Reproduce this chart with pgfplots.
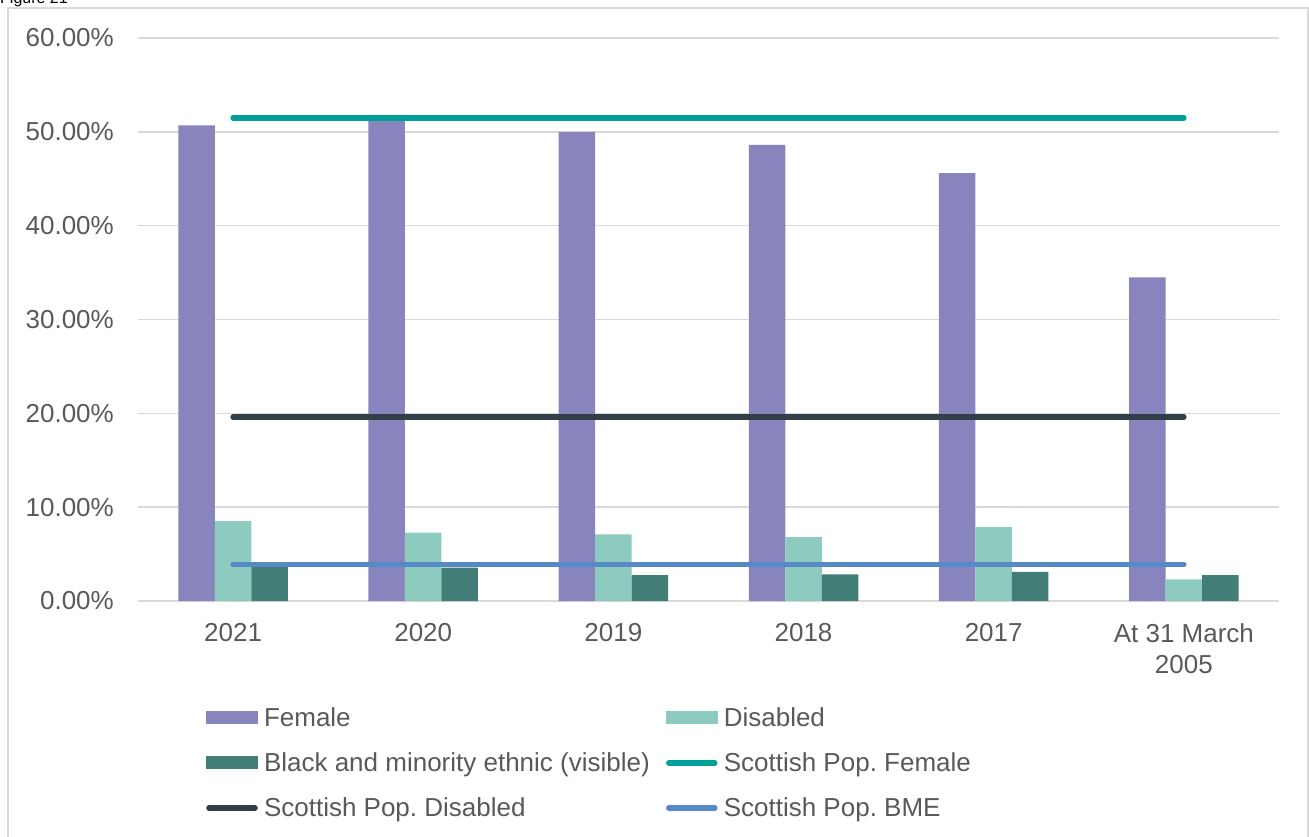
\documentclass[border=0pt]{standalone}
\usepackage{fontspec}
\setmainfont{Liberation Sans}
\usepackage{pgfplots}
\usepackage{pgfplotstable}
\pgfplotsset{compat=1.18}
\definecolor{cFem}{HTML}{8884BE}
\definecolor{cDis}{HTML}{8DCBBE}
\definecolor{cBME}{HTML}{437D78}
\definecolor{lFem}{HTML}{00A09A}
\definecolor{lDis}{HTML}{333F48}
\definecolor{lBME}{HTML}{5589C8}
\definecolor{gridgray}{HTML}{D9D9D9}
\definecolor{textgray}{HTML}{595959}
\pgfplotstableread{
x female disabled bme
0 50.7 8.5 3.65
1 51.3 7.3 3.55
2 50.0 7.1 2.75
3 48.6 6.8 2.85
4 45.6 7.9 3.10
5 34.5 2.3 2.75
}\datatable
\begin{document}
\frenchspacing
\begin{tikzpicture}[x=1pt,y=1pt]
\useasboundingbox (0,0) rectangle (1309,836);
\draw[gridgray, line width=2pt] (8,-5) -- (8,828) -- (1307.5,828) -- (1307.5,-5);
\node[anchor=base west, inner sep=0pt, text=black, font=\fontsize{16}{19}\selectfont] at (0,832.5) {Figure 21};
\begin{axis}[
  at={(138pt,235pt)}, anchor=south west,
  scale only axis, width=1141pt, height=563pt,
  xmin=-0.5, xmax=5.5, ymin=0, ymax=60,
  xtick={0,...,5},
  xticklabels={2021,2020,2019,2018,2017,{At 31 March\\2005}},
  ytick={0,10,...,60},
  yticklabel={\pgfmathprintnumber[fixed,fixed zerofill,precision=2]{\tick}\%},
  /pgf/number format/assume math mode=true,
  axis line style={draw=none},
  major tick length=0pt,
  tick style={draw=none},
  ymajorgrids,
  major grid style={gridgray, line width=1.5pt},
  tick label style={font=\fontsize{26}{31}\selectfont, text=textgray, inner sep=0pt},
  xticklabel style={align=center, anchor=north},
  xticklabel shift=22pt,
  yticklabel shift=24pt,
  legend columns=2,
  legend style={at={(0.0596,-0.190)}, anchor=north west, draw=none, fill=none,
    inner sep=0pt, outer sep=0pt, row sep=20pt, column sep=0pt,
    font=\frenchspacing\fontsize{26}{31}\selectfont, text=textgray,
    nodes={inner xsep=6pt, inner ysep=0pt, text height=19pt, text depth=6pt, anchor=base west},
    /tikz/every even column/.append style={column sep=10pt}},
  legend cell align=left,
]
\addplot[ybar, bar width=36.5pt, bar shift=-36.5pt, fill=cFem, draw=none,
  legend image code/.code={\fill[cFem] (0pt,2.5pt) rectangle (52pt,15.5pt);}]
  table[x=x, y=female] {\datatable};
\addlegendentry{Female}
\addplot[ybar, bar width=36.5pt, bar shift=0pt, fill=cDis, draw=none,
  legend image code/.code={\fill[cDis] (0pt,2.5pt) rectangle (52pt,15.5pt);}]
  table[x=x, y=disabled] {\datatable};
\addlegendentry{Disabled}
\addplot[ybar, bar width=36.5pt, bar shift=36.5pt, fill=cBME, draw=none,
  legend image code/.code={\fill[cBME] (0pt,2.5pt) rectangle (52pt,15.5pt);}]
  table[x=x, y=bme] {\datatable};
\addlegendentry{Black and minority ethnic (visible)}
\addplot[lFem, line width=5.5pt, line cap=round, mark=none,
  legend image code/.code={\draw[lFem, line width=5.5pt, line cap=round] (3pt,9pt) -- (49pt,9pt);}]
  coordinates {(0,51.5) (5,51.5)};
\addlegendentry{Scottish Pop.\ Female}
\addplot[lDis, line width=5.5pt, line cap=round, mark=none,
  legend image code/.code={\draw[lDis, line width=5.5pt, line cap=round] (3pt,9pt) -- (49pt,9pt);}]
  coordinates {(0,19.6) (5,19.6)};
\addlegendentry{Scottish Pop.\ Disabled}
\addplot[lBME, line width=5.5pt, line cap=round, mark=none,
  legend image code/.code={\draw[lBME, line width=5.5pt, line cap=round] (3pt,9pt) -- (49pt,9pt);}]
  coordinates {(0,3.9) (5,3.9)};
\addlegendentry{Scottish Pop.\ BME}
\end{axis}
\end{tikzpicture}
\end{document}
